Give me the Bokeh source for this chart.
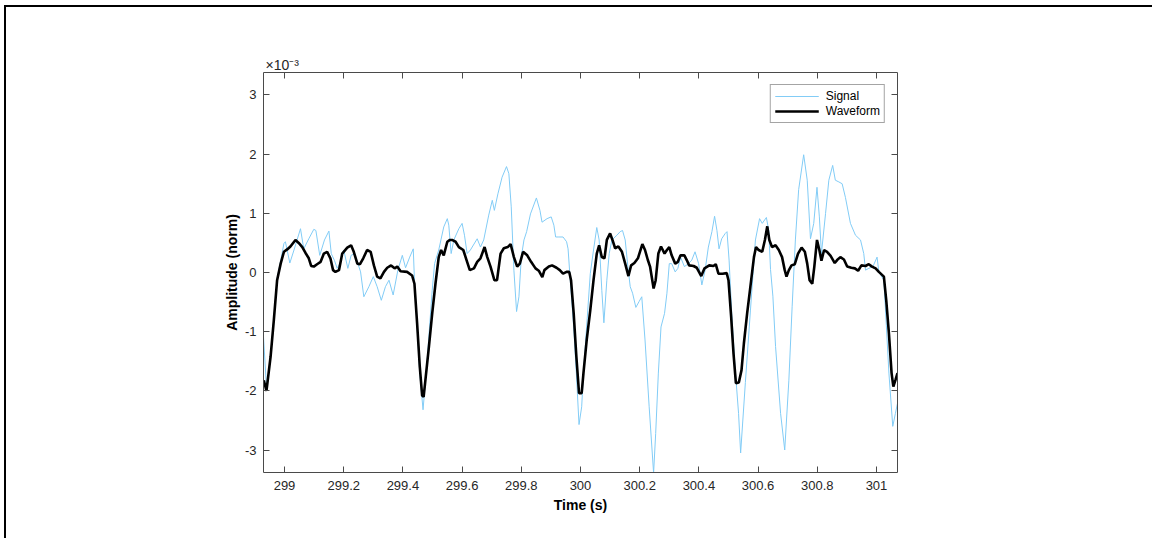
from bokeh.plotting import figure
from bokeh.layouts import column
from bokeh.models import Range1d, LinearAxis, FixedTicker, Title
from bokeh.embed import file_html
from bokeh.resources import INLINE

# ---------------- data (amplitude in units of 1e-3) ----------------
sig_t = [298.929, 298.939, 298.944, 298.953, 298.964, 298.975, 298.987, 298.998, 299.003, 299.018,
         299.032, 299.054, 299.065, 299.082, 299.099, 299.106, 299.119, 299.135, 299.150, 299.158,
         299.169, 299.178, 299.187, 299.200, 299.214, 299.225, 299.237, 299.248, 299.257, 299.268,
         299.285, 299.300, 299.313, 299.327, 299.341, 299.353, 299.367, 299.383, 299.398, 299.409,
         299.423, 299.435, 299.439, 299.448, 299.457, 299.468,
         299.482, 299.499, 299.507, 299.521, 299.538, 299.550, 299.555, 299.563, 299.572, 299.589,
         299.600, 299.608, 299.617, 299.628, 299.651, 299.662, 299.673, 299.690, 299.702, 299.709,
         299.721, 299.735, 299.750, 299.758, 299.766, 299.775, 299.784, 299.792, 299.800, 299.809,
         299.818, 299.831, 299.851, 299.863, 299.870, 299.887, 299.901, 299.910, 299.916, 299.927,
         299.941, 299.953, 299.958, 299.965, 299.977, 299.986, 299.995, 300.004,
         300.010, 300.033, 300.044, 300.055, 300.063, 300.072, 300.079, 300.089, 300.097, 300.106,
         300.123, 300.134, 300.142, 300.151, 300.160, 300.168, 300.176, 300.187, 300.198, 300.207,
         300.218, 300.232, 300.247, 300.254, 300.263, 300.272, 300.284, 300.292, 300.300, 300.308,
         300.320, 300.329, 300.338, 300.351, 300.365, 300.376, 300.387, 300.399, 300.410, 300.421,
         300.432, 300.444, 300.453, 300.461, 300.468, 300.477, 300.489, 300.495, 300.502, 300.511,
         300.522, 300.534,
         300.541, 300.557, 300.574, 300.591, 300.605, 300.614, 300.628, 300.636, 300.642, 300.650,
         300.659, 300.676, 300.690, 300.704, 300.715, 300.726, 300.737, 300.754, 300.766, 300.777,
         300.788, 300.799, 300.807, 300.814, 300.828, 300.839, 300.852, 300.861, 300.873, 300.884,
         300.895, 300.912, 300.929, 300.946, 300.957, 300.963, 300.974, 300.988, 301.002, 301.008,
         301.025, 301.042, 301.055, 301.064, 301.071]
sig_v = [-1.09, -1.93, -1.82, -1.40, -0.78, -0.10, 0.20, 0.49, 0.52, 0.16,
         0.38, 0.74, 0.40, 0.57, 0.73, 0.71, 0.29, 0.55, 0.70, 0.32,
         0.20, 0.07, 0.15, 0.38, 0.07, 0.29, 0.32, 0.15, 0.01, -0.41,
         -0.24, -0.07, -0.24, -0.47, -0.24, -0.13, -0.38, 0.04, 0.29, 0.08,
         0.26, 0.40, -0.13, -0.92, -1.70, -2.32,
         -1.48, -0.30, 0.15, 0.38, 0.77, 0.91, 0.80, 0.32, 0.55, 0.74,
         0.83, 0.63, 0.32, 0.38, 0.57, 0.43, 0.55, 0.97, 1.22, 1.05,
         1.33, 1.61, 1.79, 1.67, 1.11, 0.04, -0.66, -0.41, 0.26, 0.55,
         0.69, 0.99, 1.26, 1.05, 0.85, 0.91, 0.94, 0.80, 0.60, 0.60,
         0.60, 0.52, 0.40, -0.10, -0.92, -1.70, -2.57, -2.27,
         -1.70, -0.02, 0.38, 0.76, 0.55, -0.30, -0.85, -0.13, 0.32, 0.55,
         0.63, 0.69, 0.71, 0.55, 0.10, -0.24, -0.35, -0.59, -0.49, -0.41,
         -1.14, -2.27, -3.39, -2.72, -1.70, -0.92, -0.69, -0.35, 0.15, 0.15,
         0.01, 0.07, 0.26, 0.10, 0.15, 0.21, 0.35, 0.15, -0.21, 0.04,
         0.43, 0.69, 0.95, 0.71, 0.40, 0.57, 0.66, 0.69, 0.21, -0.69,
         -1.59, -2.38,
         -3.05, -1.86, -0.65, 0.55, 0.91, 0.83, 0.93, 0.71, 0.05, -0.40,
         -1.25, -2.38, -3.00, -1.82, -0.58, 0.55, 1.40, 1.99, 1.56, 0.57,
         0.83, 1.44, 0.94, 0.32, 1.00, 1.56, 1.81, 1.56, 1.53, 1.50,
         1.27, 0.83, 0.63, 0.55, 0.32, 0.04, 0.07, 0.10, 0.26, 0.01,
         -0.13, -1.70, -2.60, -2.38, -2.21]

wav_t = [298.930, 298.939, 298.953, 298.964, 298.975, 298.987, 298.998, 299.009, 299.020, 299.037,
         299.048, 299.060, 299.071, 299.082, 299.090, 299.099, 299.110, 299.122, 299.133, 299.144,
         299.155, 299.164, 299.172, 299.184, 299.195, 299.212, 299.225, 299.234, 299.246, 299.255,
         299.266, 299.279, 299.291, 299.302, 299.313, 299.324, 299.336, 299.347, 299.360, 299.372,
         299.381, 299.392, 299.414, 299.431, 299.439, 299.448, 299.457, 299.465,
         299.470, 299.476, 299.488, 299.499, 299.510, 299.521, 299.529, 299.538, 299.550, 299.559,
         299.566, 299.578, 299.589, 299.604, 299.615, 299.626, 299.640, 299.651, 299.662, 299.676,
         299.685, 299.696, 299.709, 299.718, 299.730, 299.741, 299.754, 299.764, 299.775, 299.786,
         299.795, 299.806, 299.820, 299.833, 299.848, 299.859, 299.871, 299.878, 299.893, 299.904,
         299.919, 299.930, 299.941, 299.953, 299.962, 299.968, 299.977, 299.986, 299.995, 300.004,
         300.010, 300.021, 300.033, 300.044, 300.055, 300.063, 300.072, 300.081, 300.089, 300.100,
         300.108, 300.117, 300.128, 300.140, 300.151, 300.162, 300.171, 300.182, 300.194, 300.209,
         300.218, 300.227, 300.235, 300.247, 300.254, 300.263, 300.272, 300.284, 300.292, 300.300,
         300.308, 300.320, 300.329, 300.338, 300.351, 300.359, 300.367, 300.382, 300.393, 300.408,
         300.419, 300.435, 300.449, 300.457, 300.466, 300.480, 300.494, 300.500, 300.509, 300.517,
         300.525,
         300.535, 300.544, 300.552, 300.563, 300.574, 300.586, 300.593, 300.602, 300.614, 300.623,
         300.631, 300.638, 300.647, 300.659, 300.670, 300.681, 300.690, 300.696, 300.704, 300.713,
         300.724, 300.735, 300.747, 300.758, 300.766, 300.774, 300.783, 300.790, 300.799, 300.807,
         300.814, 300.823, 300.833, 300.845, 300.859, 300.867, 300.878, 300.890, 300.901, 300.915,
         300.927, 300.938, 300.949, 300.963, 300.974, 300.985, 300.997, 301.008, 301.025, 301.033,
         301.042, 301.051, 301.057, 301.064, 301.071]
wav_v = [-1.82, -2.00, -1.42, -0.80, -0.13, 0.15, 0.35, 0.39, 0.44, 0.55,
         0.50, 0.43, 0.33, 0.24, 0.11, 0.10, 0.14, 0.18, 0.32, 0.35,
         0.24, 0.04, 0.01, 0.04, 0.32, 0.42, 0.46, 0.35, 0.15, 0.14,
         0.24, 0.38, 0.35, 0.12, -0.07, -0.10, 0.01, 0.08, 0.12, 0.07,
         0.10, 0.02, 0.01, -0.05, -0.19, -0.86, -1.59, -2.08,
         -2.10, -1.82, -1.25, -0.69, -0.19, 0.26, 0.38, 0.29, 0.52, 0.55,
         0.55, 0.52, 0.43, 0.38, 0.21, 0.04, 0.07, 0.18, 0.24, 0.43,
         0.26, 0.10, -0.13, -0.13, 0.32, 0.41, 0.43, 0.48, 0.26, 0.10,
         0.15, 0.35, 0.29, 0.18, 0.07, 0.03, -0.08, 0.04, 0.10, 0.12,
         0.08, 0.04, -0.02, 0.01, 0.01, -0.13, -0.69, -1.42, -2.04, -2.04,
         -1.70, -1.14, -0.64, -0.13, 0.32, 0.46, 0.26, 0.24, 0.55, 0.66,
         0.55, 0.41, 0.44, 0.35, 0.15, -0.06, 0.12, 0.16, 0.24, 0.48,
         0.38, 0.22, 0.10, -0.27, -0.13, 0.32, 0.44, 0.32, 0.38, 0.43,
         0.29, 0.15, 0.18, 0.29, 0.29, 0.21, 0.12, 0.11, 0.08, -0.06,
         0.07, 0.12, 0.11, 0.14, -0.02, -0.02, -0.01, -0.13, -0.75, -1.37,
         -1.87,
         -1.86, -1.65, -1.20, -0.69, -0.24, 0.26, 0.43, 0.38, 0.35, 0.55,
         0.78, 0.55, 0.43, 0.46, 0.38, 0.26, 0.04, -0.07, 0.04, 0.12,
         0.14, 0.32, 0.42, 0.35, 0.15, -0.13, -0.19, 0.10, 0.55, 0.38,
         0.20, 0.38, 0.35, 0.28, 0.16, 0.21, 0.26, 0.22, 0.10, 0.08,
         0.07, 0.03, 0.12, 0.11, 0.14, 0.10, 0.07, 0.01, -0.07, -0.47,
         -1.03, -1.70, -1.93, -1.82, -1.70]

x_ticks = [299, 299.2, 299.4, 299.6, 299.8, 300, 300.2, 300.4, 300.6, 300.8, 301]
x_tick_labels = ["299", "299.2", "299.4", "299.6", "299.8", "300",
                 "300.2", "300.4", "300.6", "300.8", "301"]
y_ticks = [-3, -2, -1, 0, 1, 2, 3]
y_tick_labels = ["-3", "-2", "-1", "0", "1", "2", "3"]
y_exponent = "×10⁻³"
x_limits = (298.929, 301.071)
y_limits = (-3.38, 3.38)

# ---------------- style ----------------
FONT = "Liberation Sans"
AXC = "#4a4a4a"
TXT = "#262626"

p = figure(width=1146, height=531, output_backend="svg", toolbar_location=None,
           x_range=Range1d(*x_limits), y_range=Range1d(*y_limits),
           min_border_left=257, min_border_right=255, min_border_top=65, min_border_bottom=66,
           background_fill_color="white", border_fill_color="white")
p.grid.visible = False
p.outline_line_color = None

p.line(sig_t, sig_v, line_color="#82CCF6", line_width=1, legend_label="Signal")
p.line(wav_t, wav_v, line_color="black", line_width=2.6, legend_label="Waveform")


def style(ax, ticks, labels, show):
    ax.ticker = FixedTicker(ticks=ticks)
    ax.major_label_overrides = {t: (l if show else "") for t, l in zip(ticks, labels)}
    ax.major_tick_in = 6
    ax.major_tick_out = 0
    ax.minor_tick_line_color = None
    ax.axis_line_color = AXC
    ax.axis_line_width = 1
    ax.major_tick_line_color = AXC
    ax.major_label_text_font = FONT
    ax.major_label_text_font_size = "13px"
    ax.major_label_text_color = TXT
    ax.axis_label_text_font = FONT
    ax.axis_label_text_font_size = "14px"
    ax.axis_label_text_font_style = "bold"
    ax.axis_label_text_color = "black"


style(p.xaxis[0], x_ticks, x_tick_labels, True)
style(p.yaxis[0], y_ticks, y_tick_labels, True)
p.xaxis[0].axis_label = "Time (s)"
p.yaxis[0].axis_label = "Amplitude (norm)"
p.xaxis[0].major_label_standoff = 8
p.xaxis[0].axis_label_standoff = 4
p.yaxis[0].major_label_standoff = 7
p.yaxis[0].axis_label_standoff = 2

top = LinearAxis()
style(top, x_ticks, x_tick_labels, False)
top.major_label_text_font_size = "0px"
top.major_label_standoff = 0
p.add_layout(top, "above")
right = LinearAxis()
style(right, y_ticks, y_tick_labels, False)
right.major_label_text_font_size = "0px"
right.major_label_standoff = 0
p.add_layout(right, "right")

# exponent of the y axis, shown at the top-left corner as in MATLAB
p.add_layout(Title(text=y_exponent, align="left", offset=2, standoff=0,
                   text_font=FONT, text_font_size="14px", text_font_style="normal",
                   text_color=TXT), "above")

leg = p.legend[0]
leg.location = "top_right"
leg.margin = 12
leg.label_text_font = FONT
leg.label_text_font_size = "12px"
leg.label_text_color = "black"
leg.border_line_color = AXC
leg.border_line_width = 1
leg.padding = 4
leg.spacing = 1
leg.glyph_width = 44
leg.glyph_height = 14
leg.label_height = 14
leg.label_standoff = 7
leg.background_fill_color = "white"
leg.background_fill_alpha = 1

page = column(p, styles={"margin-left": "4px", "margin-top": "5px",
                         "border-left": "2px solid black", "border-top": "2px solid black"})

open("out.html", "w").write(file_html(page, INLINE))
